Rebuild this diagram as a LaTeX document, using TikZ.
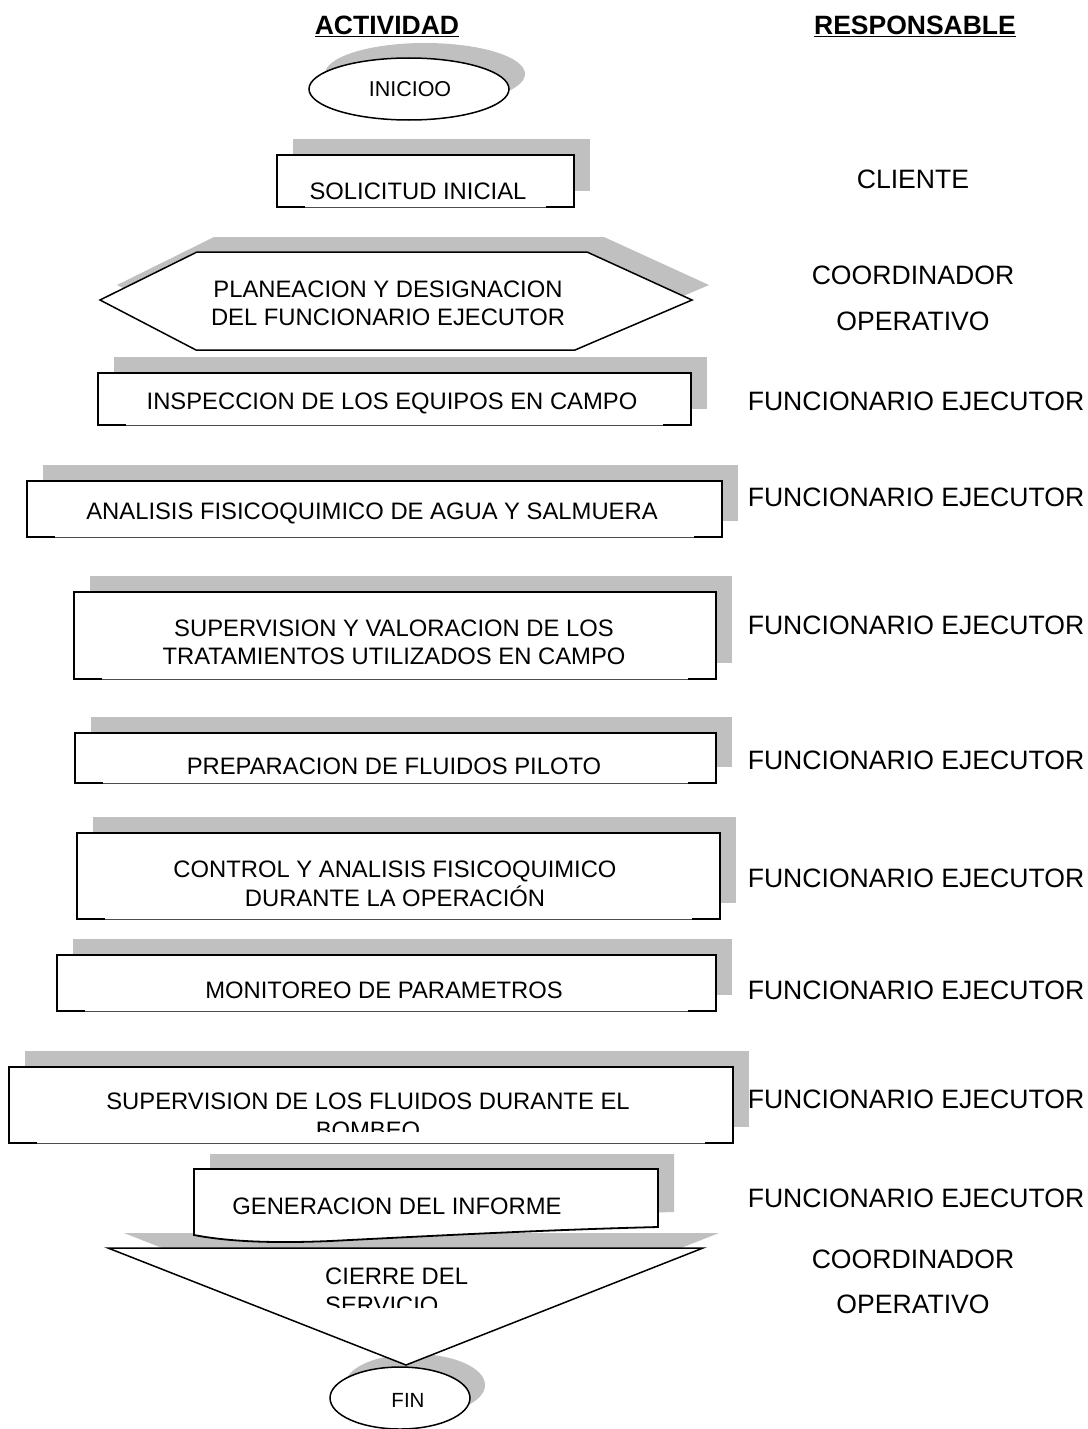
\documentclass[tikz,border=0pt]{standalone}
\usepackage{fontspec}
\setmainfont{Liberation Sans}
\definecolor{shgray}{RGB}{192,192,192}
\tikzset{
  shapeline/.style={draw=black, line width=1.5pt},
  boxline/.style={draw=black, line width=1.8pt, line join=miter},
  floorline/.style={draw=black!70, line width=0.9pt},
  acttext/.style={font=\fontsize{23.8}{28.5}\selectfont, align=center, inner sep=0pt},
  resptext/.style={font=\fontsize{26.6}{30}\selectfont, inner sep=0pt},
  headtext/.style={font=\bfseries\fontsize{26.5}{30}\selectfont, inner sep=0pt, anchor=base},
}
% activity box: grey shadow up-right, black sides and top, thin floor with black corners
\newcommand\actbox[4]{%
  \fill[shgray] ({#1+16},{#2-16}) rectangle ({#3+16},{#4-16});
  \fill[white] (#1,#2) rectangle (#3,#4);
  \draw[floorline] (#1,#4) -- (#3,#4);
  \draw[boxline] ({#1+28},#4) -- (#1,#4) -- (#1,#2) -- (#3,#2) -- (#3,#4) -- ({#3-28},#4);
}
\begin{document}
\begin{tikzpicture}[x=1pt,y=-1pt]
\useasboundingbox (0,0) rectangle (1087,1429);

% column headings
\node[headtext] (hact) at (387,34.5) {\underline{ACTIVIDAD}};
\node[headtext] (hresp) at (915,34.5) {\underline{RESPONSABLE}};

% start terminal
\fill[shgray] (425,74) ellipse [x radius=100, y radius=31];
\draw[shapeline, fill=white] (409,89) ellipse [x radius=100, y radius=31];
\node[font=\fontsize{21.5}{24}\selectfont, inner sep=0pt] (inicio) at (410,89) {INICIOO};

% initial request
\actbox{277}{155}{574}{207}
\node[acttext] (solicitud) at (418,191) {SOLICITUD INICIAL};
\node[resptext] (r1) at (913,179) {CLIENTE};

% planning (hexagon)
\fill[shgray] (117,285) -- (214,237) -- (604,237) -- (709,285) -- (592,335) -- (213,335) -- cycle;
\draw[shapeline, fill=white] (100,300) -- (197,252) -- (587,252) -- (692,300) -- (575,350) -- (196,350) -- cycle;
\node[acttext] (planeacion) at (388,303.5) {PLANEACION Y DESIGNACION\\DEL FUNCIONARIO EJECUTOR};
\node[resptext] (r2a) at (913,275) {COORDINADOR};
\node[resptext] (r2b) at (913,321) {OPERATIVO};

% field inspection
\actbox{98}{373}{691}{425}
\node[acttext] (inspeccion) at (392,403) {INSPECCION DE LOS EQUIPOS EN CAMPO};
\node[resptext] (r3) at (916,401) {FUNCIONARIO EJECUTOR};

% water analysis
\actbox{27}{481}{722}{537}
\node[acttext] (analisis) at (372,513) {ANALISIS FISICOQUIMICO DE AGUA Y SALMUERA};
\node[resptext] (r4) at (916,497) {FUNCIONARIO EJECUTOR};

% treatment supervision
\actbox{74}{592}{716}{679}
\node[acttext] (supval) at (394,642.5) {SUPERVISION Y VALORACION DE LOS\\TRATAMIENTOS UTILIZADOS EN CAMPO};
\node[resptext] (r5) at (916,625) {FUNCIONARIO EJECUTOR};

% pilot fluids
\actbox{75}{733}{716}{783}
\node[acttext] (preparacion) at (394,766) {PREPARACION DE FLUIDOS PILOTO};
\node[resptext] (r6) at (916,760) {FUNCIONARIO EJECUTOR};

% control during operation
\actbox{77}{833}{720}{919}
\node[acttext] (control) at (395,884) {CONTROL Y ANALISIS FISICOQUIMICO\\DURANTE LA OPERACIÓN};
\node[resptext] (r7) at (916,878) {FUNCIONARIO EJECUTOR};

% parameter monitoring
\actbox{57}{955}{716}{1011}
\node[acttext] (monitoreo) at (384,990) {MONITOREO DE PARAMETROS};
\node[resptext] (r8) at (916,990) {FUNCIONARIO EJECUTOR};

% pumping supervision (second line cut by the box)
\actbox{9}{1067}{733}{1143}
\begin{scope}
  \clip (0,1060) rectangle (1087,1131);
  \node[acttext] (supflu) at (368,1116) {SUPERVISION DE LOS FLUIDOS DURANTE EL\\BOMBEO};
\end{scope}
\node[resptext] (r9) at (916,1099) {FUNCIONARIO EJECUTOR};

% closing (inverted triangle) shadow, drawn below the report
\fill[shgray] (124,1233) -- (719,1233) -- (422,1350) -- cycle;

% report (document shape)
\begin{scope}[shift={(16,-15)}]
  \fill[shgray] (194,1235) -- (194,1169) -- (658,1169) -- (658,1227)
    .. controls (540,1230) and (430,1236) .. (330,1241)
    .. controls (260,1244) and (220,1240) .. (194,1235) -- cycle;
\end{scope}
\draw[boxline, fill=white] (194,1235) -- (194,1169) -- (658,1169) -- (658,1227)
    .. controls (540,1230) and (430,1236) .. (330,1241)
    .. controls (260,1244) and (220,1240) .. (194,1235) -- cycle;
\node[acttext] (informe) at (397,1206) {GENERACION DEL INFORME};
\node[resptext] (r10) at (916,1198) {FUNCIONARIO EJECUTOR};

% end terminal shadow
\fill[shgray] (415,1385) ellipse [x radius=70, y radius=31];

% closing
\draw[shapeline, fill=white] (108,1248) -- (703,1248) -- (406,1365) -- cycle;
\begin{scope}
  \clip (0,1250) rectangle (1087,1307);
  \node[acttext, align=left, anchor=north west] (cierre) at (325,1268) {CIERRE DEL\\SERVICIO};
\end{scope}
\node[resptext] (r11a) at (913,1259) {COORDINADOR};
\node[resptext] (r11b) at (913,1304) {OPERATIVO};

% end terminal
\draw[shapeline, fill=white] (400,1398) ellipse [x radius=70, y radius=31];
\node[font=\fontsize{20.5}{24}\selectfont, inner sep=0pt] (fin) at (408,1400) {FIN};
\end{tikzpicture}
\end{document}
